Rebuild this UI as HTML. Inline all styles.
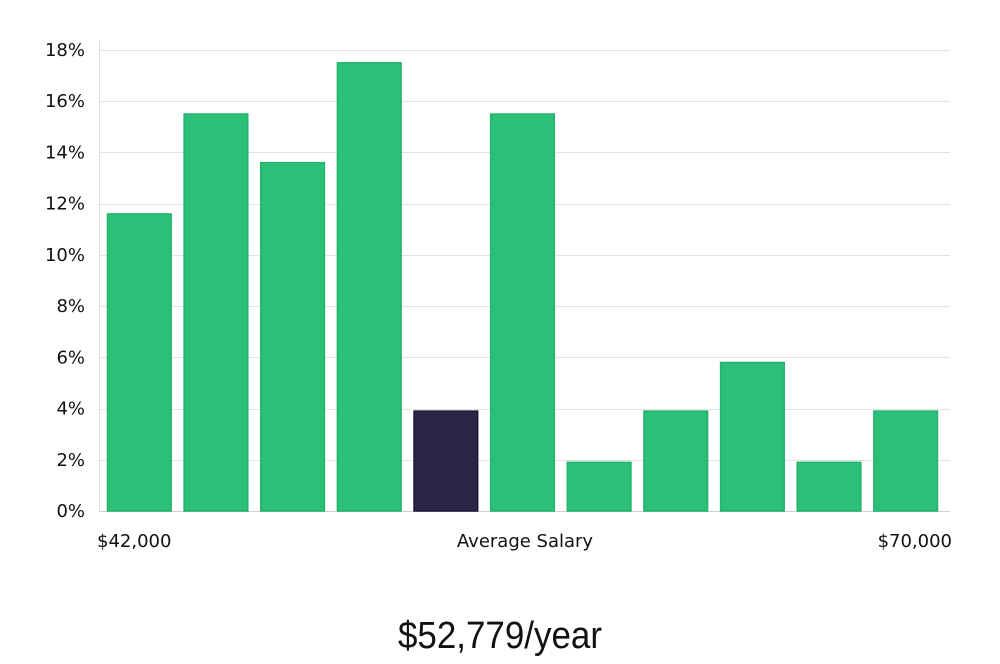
<!DOCTYPE html>
<html><head><meta charset="utf-8"><style>
html,body{margin:0;padding:0;background:#fff;}
body{width:1000px;height:660px;overflow:hidden;font-family:"DejaVu Sans","Liberation Sans",sans-serif;}
</style></head><body>
<svg id="chart" width="1000" height="660" viewBox="0 0 1000 660" xmlns="http://www.w3.org/2000/svg">
<g id="grid"></g>
<g id="yticks"></g>
<g id="bars"></g>
<line x1="99.5" y1="40" x2="99.5" y2="512" stroke="#e0e0e0" stroke-width="1"/>
<text x="97" y="547" font-size="18" fill="#111">$42,000</text>
<text x="525" y="547" font-size="18" fill="#111" text-anchor="middle">Average Salary</text>
<text x="952" y="547" font-size="18" fill="#111" text-anchor="end">$70,000</text>
<text x="500" y="648" font-size="38" fill="#111" text-anchor="middle" font-family="Liberation Sans Narrow, Liberation Sans, sans-serif" font-weight="300" transform="translate(500,0) scale(0.92,1) translate(-500,0)">$52,779/year</text>
</svg>
<script>
const categories = ["b1","b2","b3","b4","b5","b6","b7","b8","b9","b10","b11"];
const values = [11.6,15.5,13.6,17.5,3.9,15.5,1.9,3.9,5.8,1.9,3.9];
const highlightIndex = 4;
const yTicks = [0,2,4,6,8,10,12,14,16,18];
const yTickLabels = ["0%","2%","4%","6%","8%","10%","12%","14%","16%","18%"];

const ns="http://www.w3.org/2000/svg";
const y0=511, yTop=50, yMax=18;
function yScale(v){return y0-(v/yMax)*(y0-yTop);}
const xL=103, xR=946;
const step=(xR-xL)/categories.length;
function xScale(i){return xL+i*step;}
const bw=step-14;

const grid=document.getElementById('grid');
const yt=document.getElementById('yticks');
yTicks.forEach((t,i)=>{
  const y=Math.round(yScale(t))+0.5;
  const l=document.createElementNS(ns,'line');
  
  
  l.setAttribute('x1',99);l.setAttribute('x2',950);
  l.setAttribute('y1',y);l.setAttribute('y2',y);
  l.setAttribute('stroke',t===0?'#cfcfcf':'#e2e2e2');
  grid.appendChild(l);
  const tx=document.createElementNS(ns,'text');
  
  
  tx.setAttribute('x',85);tx.setAttribute('y',yScale(t)+6);
  tx.setAttribute('text-anchor','end');tx.setAttribute('font-size','18');
  tx.setAttribute('fill','#111');
  tx.textContent=yTickLabels[i];
  yt.appendChild(tx);
});
const bars=document.getElementById('bars');
values.forEach((v,i)=>{
  const r=document.createElementNS(ns,'rect');
  
  
  const x=xScale(i)+4.5;
  r.setAttribute('x',x);r.setAttribute('width',bw+1);
  r.setAttribute('y',yScale(v));r.setAttribute('height',y0-yScale(v));
  const hi=i===highlightIndex;
  r.setAttribute('fill',hi?'#2a2545':'#2bbf77');
  r.setAttribute('stroke',hi?'#1c1838':'#22b36d');
  r.setAttribute('stroke-width','1.5');
  bars.appendChild(r);
});
</script>
</body></html>
